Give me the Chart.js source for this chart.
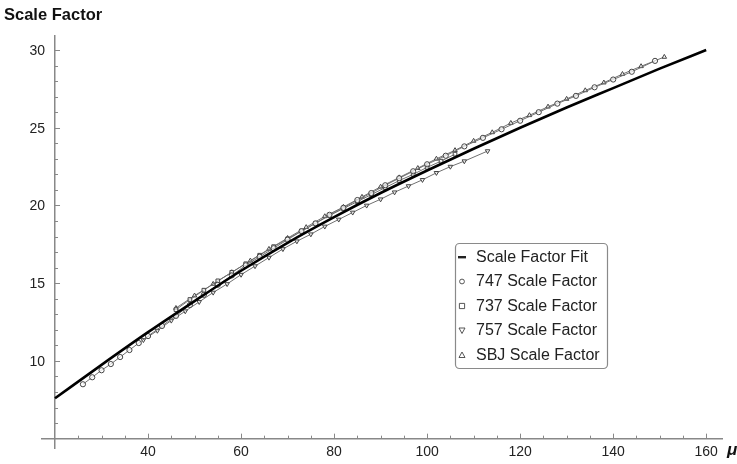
<!DOCTYPE html>
<html>
<head>
<meta charset="utf-8">
<script src="https://cdn.jsdelivr.net/npm/chart.js@4.4.0/dist/chart.umd.min.js"></script>
<style>
  html, body { margin: 0; padding: 0; background: #fff; }
  #wrap { width: 737px; height: 464px; }
</style>
</head>
<body>
<div id="wrap"><canvas id="chart" width="737" height="464"></canvas></div>
<script>
/* ============================= */
/*            DATA               */
/* ============================= */
const xTicks = [40, 60, 80, 100, 120, 140, 160];
const yTicks = [10, 15, 20, 25, 30];

// fitted curve
const fitMu = [20, 30, 40, 50, 60, 70, 80, 90, 100, 110, 120, 130, 140, 150, 160];
const fitSF = [7.6, 9.75, 11.85, 13.85, 15.8, 17.6, 19.25, 20.8, 22.25, 23.65, 25.0, 26.3, 27.55, 28.8, 30.0];

// 747 (circles)
const mu747 = [26, 28, 30, 32, 34, 36, 38, 40, 43, 46, 49, 52, 55, 58, 61, 64, 67, 70, 73, 76, 79, 82, 85, 88, 91, 94, 97, 100, 104, 108, 112, 116, 120, 124, 128, 132, 136, 140, 144, 149];
const sf747 = [8.5, 8.95, 9.4, 9.8, 10.25, 10.7, 11.15, 11.6, 12.25, 12.9, 13.6, 14.25, 14.9, 15.5, 16.15, 16.7, 17.25, 17.8, 18.35, 18.85, 19.4, 19.85, 20.35, 20.8, 21.3, 21.75, 22.2, 22.65, 23.2, 23.8, 24.35, 24.9, 25.45, 26.0, 26.55, 27.05, 27.6, 28.1, 28.6, 29.3];

// 737 (squares)
const mu737 = [46, 49, 52, 55, 58, 61, 64, 67, 70, 73, 76, 79, 82, 85, 88, 91, 94, 97, 100, 103, 106];
const sf737 = [13.3, 13.95, 14.55, 15.15, 15.7, 16.25, 16.8, 17.35, 17.85, 18.35, 18.85, 19.35, 19.8, 20.25, 20.7, 21.15, 21.6, 22.0, 22.45, 22.85, 23.3];

// 757 (down triangles)
const mu757 = [39, 42, 45, 48, 51, 54, 57, 60, 63, 66, 69, 72, 75, 78, 81, 84, 87, 90, 93, 96, 99, 102, 105, 108, 113];
const sf757 = [11.35, 11.95, 12.6, 13.2, 13.8, 14.4, 14.95, 15.55, 16.1, 16.65, 17.2, 17.7, 18.15, 18.65, 19.1, 19.55, 20.0, 20.4, 20.85, 21.25, 21.65, 22.1, 22.5, 22.85, 23.5];

// SBJ (up triangles)
const muSBJ = [46, 50, 54, 58, 62, 66, 70, 74, 78, 82, 86, 90, 94, 98, 102, 106, 110, 114, 118, 122, 126, 130, 134, 138, 142, 146, 151];
const sfSBJ = [13.4, 14.2, 14.95, 15.7, 16.45, 17.2, 17.9, 18.6, 19.3, 19.9, 20.55, 21.2, 21.8, 22.4, 23.0, 23.55, 24.15, 24.7, 25.3, 25.8, 26.35, 26.85, 27.4, 27.9, 28.45, 28.95, 29.55];

const legendItems = [
    { label: 'Scale Factor Fit', style: 'dash' },
    { label: '747 Scale Factor', style: 'circle' },
    { label: '737 Scale Factor', style: 'rect' },
    { label: '757 Scale Factor', style: 'down' },
    { label: 'SBJ Scale Factor', style: 'up' }
];

const pts = (xs, ys) => xs.map((x, i) => ({ x: x, y: ys[i] }));
const FONT = '"Liberation Sans", Arial, sans-serif';

function markerSet(label, data, style, rotation) {
    return {
        label: label,
        data: data,
        showLine: true,
        borderColor: '#707070',
        borderWidth: 1,
        pointStyle: style,
        rotation: rotation || 0,
        pointRadius: 2.6,
        pointBorderWidth: 1,
        pointBorderColor: '#444',
        pointBackgroundColor: 'rgba(255,255,255,0.7)',
        tension: 0
    };
}

/* ============================= */
/*      EXTRA DRAWING PLUGIN     */
/* ============================= */
const decorations = {
    id: 'decorations',
    afterDraw(chart) {
        const ctx = chart.ctx;
        const xs = chart.scales.x, ys = chart.scales.y;
        const x0 = xs.getPixelForValue(20), y0 = ys.getPixelForValue(5);
        ctx.save();
        // tick marks (inside, like the original)
        ctx.strokeStyle = '#888';
        ctx.lineWidth = 1;
        ctx.beginPath();
        for (let v = 25; v <= 160; v += 5) {
            const px = Math.round(xs.getPixelForValue(v)) + 0.5;
            const len = v % 20 === 0 ? 5 : 3;
            ctx.moveTo(px, y0); ctx.lineTo(px, y0 - len);
        }
        for (let v = 6; v <= 30; v += 1) {
            const py = Math.round(ys.getPixelForValue(v)) + 0.5;
            const len = v % 5 === 0 ? 5 : 3;
            ctx.moveTo(x0, py); ctx.lineTo(x0 + len, py);
        }
        ctx.stroke();

        // y tick labels, right aligned left of the axis
        ctx.fillStyle = '#222';
        ctx.font = '14px ' + FONT;
        ctx.textAlign = 'right';
        ctx.textBaseline = 'middle';
        yTicks.forEach(v => ctx.fillText(String(v), x0 - 10, ys.getPixelForValue(v) + 1));

        // axis titles
        ctx.fillStyle = '#111';
        ctx.font = 'bold 16.5px ' + FONT;
        ctx.textAlign = 'left';
        ctx.textBaseline = 'alphabetic';
        ctx.fillText('Scale Factor', 4, 20);
        ctx.font = 'bold italic 17px ' + FONT;
        ctx.fillText('\u03bc', 727, 455);

        // legend box
        const bx = 455, by = 243, bw = 152, bh = 125;
        ctx.strokeStyle = '#8a8a8a';
        ctx.lineWidth = 1.2;
        ctx.fillStyle = '#fff';
        ctx.beginPath();
        ctx.roundRect(bx + 0.5, by + 0.5, bw, bh, 4);
        ctx.fill();
        ctx.stroke();
        ctx.font = '16px ' + FONT;
        ctx.textBaseline = 'middle';
        legendItems.forEach((item, i) => {
            const cy = by + 14 + i * 24.5;
            const mx = bx + 7;
            ctx.strokeStyle = '#444';
            ctx.fillStyle = '#222';
            ctx.lineWidth = 0.9;
            ctx.beginPath();
            if (item.style === 'dash') {
                ctx.fillRect(mx - 4, cy - 1, 8, 2.4);
            } else if (item.style === 'circle') {
                ctx.arc(mx, cy, 2.4, 0, Math.PI * 2);
                ctx.stroke();
            } else if (item.style === 'rect') {
                ctx.rect(mx - 2.6, cy - 2.6, 5.2, 5.2);
                ctx.stroke();
            } else if (item.style === 'down') {
                ctx.moveTo(mx - 3, cy - 2.5); ctx.lineTo(mx + 3, cy - 2.5); ctx.lineTo(mx, cy + 3); ctx.closePath();
                ctx.stroke();
            } else {
                ctx.moveTo(mx - 3, cy + 2.5); ctx.lineTo(mx + 3, cy + 2.5); ctx.lineTo(mx, cy - 3); ctx.closePath();
                ctx.stroke();
            }
            ctx.fillStyle = '#222';
            ctx.fillText(item.label, bx + 21, cy + 0.5);
        });
        ctx.restore();
    }
};

/* ============================= */
/*            CHART              */
/* ============================= */
new Chart(document.getElementById('chart'), {
    type: 'scatter',
    data: {
        datasets: [
            {
                label: 'Scale Factor Fit',
                data: pts(fitMu, fitSF),
                showLine: true,
                borderColor: '#000',
                borderWidth: 2.6,
                pointRadius: 0,
                cubicInterpolationMode: 'monotone'
            },
            markerSet('747 Scale Factor', pts(mu747, sf747), 'circle'),
            markerSet('737 Scale Factor', pts(mu737, sf737), 'rect'),
            markerSet('757 Scale Factor', pts(mu757, sf757), 'triangle', 180),
            markerSet('SBJ Scale Factor', pts(muSBJ, sfSBJ), 'triangle')
        ]
    },
    options: {
        responsive: false,
        animation: false,
        layout: { padding: { left: 42, right: 15, top: 36, bottom: 16 } },
        plugins: { legend: { display: false }, tooltip: { enabled: false } },
        scales: {
            x: {
                type: 'linear',
                min: 17.2,
                max: 163.4,
                position: { y: 5 },
                afterBuildTicks: s => { s.ticks = xTicks.map(v => ({ value: v })); },
                border: { color: '#888', width: 1.5 },
                grid: { drawOnChartArea: false, drawTicks: false },
                ticks: { color: '#222', font: { size: 14, family: FONT }, padding: 5, maxRotation: 0 }
            },
            y: {
                type: 'linear',
                min: 4.4,
                max: 30.9,
                position: { x: 20 },
                afterBuildTicks: s => { s.ticks = yTicks.map(v => ({ value: v })); },
                border: { color: '#888', width: 1.5 },
                grid: { drawOnChartArea: false, drawTicks: false },
                ticks: { display: false }
            }
        }
    },
    plugins: [decorations]
});
</script>
</body>
</html>
